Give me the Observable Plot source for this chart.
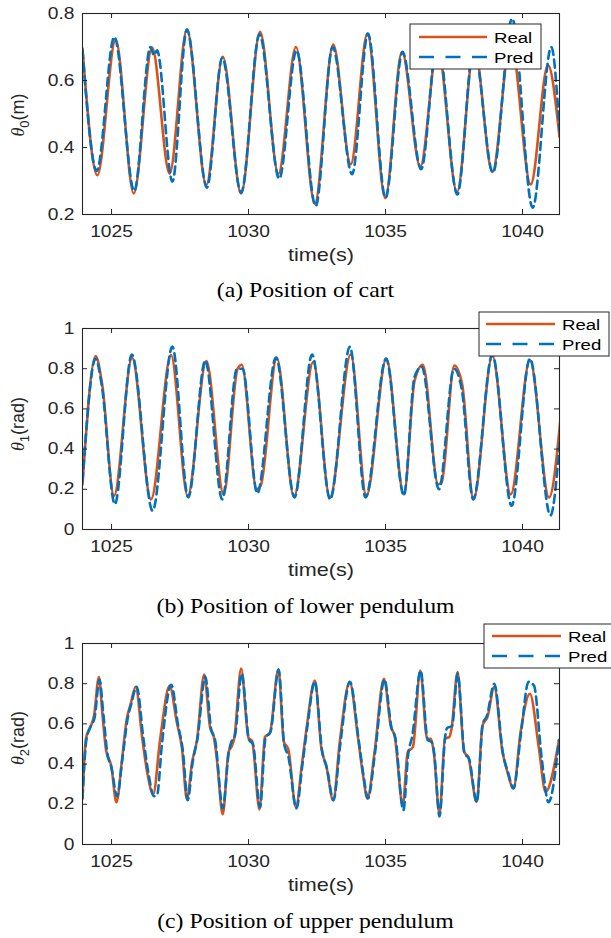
<!DOCTYPE html>
<html><head><meta charset="utf-8">
<script src="https://cdn.jsdelivr.net/npm/d3@7"></script>
<script src="https://cdn.jsdelivr.net/npm/@observablehq/plot@0.6"></script>
<style>
html,body{margin:0;padding:0;background:#fff;}
#root{position:relative;width:611px;height:938px;overflow:hidden;background:#fff;}
.panel{position:absolute;left:0;}
#overlay{position:absolute;left:0;top:0;}
.cap{font-family:"Liberation Serif","Times New Roman",Times,serif;font-size:22px;fill:#000;}
.leg{font-family:"Liberation Sans",Arial,sans-serif;font-size:15.5px;fill:#000;}
.ylab{font-family:"Liberation Sans",Arial,sans-serif;font-size:18px;fill:#262626;}
.theta{font-family:"Liberation Serif","Times New Roman",serif;font-style:italic;}
</style></head><body><div id="root"></div>
<script>
// ---------- shared axis data ----------
const xTicks = [1025, 1030, 1035, 1040];
const xDomain = [1023.94, 1041.35];
const yTicksA = [0.2, 0.4, 0.6, 0.8];
const yTicksBC = [0, 0.2, 0.4, 0.6, 0.8, 1];
const seriesNames = ["Real", "Pred"];
const captions = ["(a) Position of cart", "(b) Position of lower pendulum", "(c) Position of upper pendulum"];
const yLabelSub = ["0", "1", "2"];
const yLabelUnit = ["(m)", "(rad)", "(rad)"];
const xLabel = "time(s)";

// ---------- panel (a): cart position ----------
const aRealT = [1023.94,1024.48,1025.15,1025.81,1026.48,1027.12,1027.75,1028.46,1029.06,1029.73,1030.42,1031.09,1031.73,1032.42,1033.09,1033.73,1034.34,1034.99,1035.60,1036.27,1036.90,1037.61,1038.24,1038.90,1039.57,1040.30,1040.93,1041.35];
const aRealV = [0.695,0.317,0.722,0.263,0.698,0.322,0.752,0.288,0.671,0.263,0.745,0.322,0.700,0.233,0.707,0.350,0.740,0.249,0.686,0.342,0.700,0.267,0.700,0.327,0.720,0.290,0.646,0.432];
const aPredT = [1023.94,1024.46,1025.10,1025.83,1026.42,1026.55,1026.66,1027.22,1027.75,1028.48,1029.04,1029.73,1030.40,1031.12,1031.75,1032.45,1033.07,1033.78,1034.36,1035.00,1035.62,1036.30,1036.90,1037.62,1038.22,1038.92,1039.62,1040.37,1041.05,1041.35];
const aPredV = [0.690,0.330,0.730,0.270,0.700,0.675,0.690,0.298,0.752,0.280,0.668,0.265,0.738,0.307,0.690,0.225,0.700,0.320,0.740,0.250,0.685,0.335,0.720,0.260,0.700,0.325,0.785,0.220,0.700,0.450];

// ---------- panel (b): lower pendulum ----------
const bRealT = [1023.94,1024.42,1024.66,1025.09,1025.75,1026.44,1027.17,1027.78,1028.46,1029.09,1029.60,1029.75,1030.30,1030.45,1031.03,1031.66,1032.36,1032.97,1033.73,1034.30,1035.03,1035.67,1036.06,1036.36,1036.92,1037.05,1037.51,1037.80,1038.21,1038.90,1039.57,1040.27,1040.97,1041.39];
const bRealV = [0.225,0.863,0.720,0.167,0.854,0.150,0.868,0.167,0.838,0.175,0.800,0.820,0.200,0.220,0.854,0.164,0.833,0.159,0.871,0.167,0.849,0.175,0.740,0.820,0.225,0.235,0.816,0.720,0.150,0.863,0.175,0.843,0.159,0.556];
const bPredT = [1023.94,1024.42,1024.64,1025.12,1025.74,1026.50,1027.22,1027.80,1028.42,1029.04,1029.58,1029.78,1030.32,1031.00,1031.68,1032.32,1032.98,1033.70,1034.27,1035.02,1035.67,1036.06,1036.32,1036.95,1037.50,1037.78,1038.20,1038.90,1039.60,1040.27,1041.02,1041.39];
const bPredV = [0.240,0.850,0.720,0.126,0.870,0.093,0.910,0.160,0.840,0.150,0.800,0.800,0.180,0.855,0.160,0.870,0.150,0.909,0.160,0.850,0.170,0.760,0.810,0.200,0.800,0.700,0.150,0.870,0.118,0.850,0.070,0.500];

// ---------- panel (c): upper pendulum ----------
const cRealT = [1023.94,1024.07,1024.22,1024.36,1024.54,1024.66,1024.80,1024.99,1025.18,1025.38,1025.55,1025.70,1025.88,1026.12,1026.30,1026.52,1026.78,1027.12,1027.38,1027.57,1027.75,1027.94,1028.12,1028.38,1028.60,1028.72,1028.84,1029.06,1029.27,1029.39,1029.48,1029.73,1030.00,1030.13,1030.40,1030.60,1030.78,1031.09,1031.29,1031.45,1031.73,1031.94,1032.12,1032.42,1032.66,1032.84,1033.09,1033.33,1033.69,1034.00,1034.18,1034.34,1034.60,1034.94,1035.20,1035.33,1035.63,1035.81,1036.00,1036.27,1036.52,1036.66,1036.76,1036.97,1037.17,1037.33,1037.41,1037.63,1037.87,1038.02,1038.33,1038.54,1038.72,1038.97,1039.27,1039.45,1039.67,1039.93,1040.27,1040.60,1040.84,1041.33];
const cRealV = [0.228,0.530,0.580,0.640,0.833,0.660,0.470,0.390,0.210,0.420,0.620,0.700,0.785,0.530,0.360,0.250,0.530,0.790,0.610,0.480,0.225,0.410,0.520,0.845,0.580,0.545,0.430,0.150,0.460,0.490,0.530,0.875,0.530,0.515,0.175,0.535,0.555,0.872,0.510,0.475,0.185,0.390,0.580,0.816,0.477,0.390,0.220,0.510,0.808,0.526,0.344,0.228,0.460,0.824,0.584,0.543,0.195,0.460,0.485,0.866,0.526,0.526,0.460,0.154,0.526,0.535,0.576,0.858,0.460,0.435,0.212,0.593,0.634,0.783,0.460,0.360,0.278,0.560,0.750,0.477,0.262,0.518];
const cPredT = [1023.94,1024.08,1024.24,1024.38,1024.56,1024.70,1024.84,1025.00,1025.20,1025.40,1025.58,1025.72,1025.92,1026.16,1026.34,1026.55,1026.66,1026.84,1027.18,1027.42,1027.60,1027.78,1027.96,1028.14,1028.42,1028.64,1028.78,1029.06,1029.28,1029.40,1029.50,1029.75,1030.02,1030.16,1030.42,1030.62,1030.80,1031.10,1031.30,1031.45,1031.75,1031.96,1032.14,1032.42,1032.68,1032.86,1033.10,1033.35,1033.70,1034.02,1034.20,1034.36,1034.62,1034.96,1035.22,1035.36,1035.65,1035.83,1035.98,1036.28,1036.54,1036.68,1036.78,1036.97,1037.18,1037.25,1037.43,1037.63,1037.89,1038.04,1038.33,1038.55,1038.70,1038.97,1039.29,1039.47,1039.67,1039.95,1040.22,1040.42,1040.70,1040.95,1041.33];
const cPredV = [0.230,0.520,0.590,0.630,0.820,0.650,0.460,0.380,0.240,0.430,0.620,0.700,0.785,0.530,0.360,0.240,0.245,0.500,0.795,0.600,0.470,0.220,0.410,0.530,0.835,0.570,0.520,0.180,0.460,0.520,0.540,0.850,0.520,0.500,0.185,0.530,0.560,0.870,0.500,0.440,0.180,0.390,0.580,0.810,0.470,0.380,0.220,0.500,0.810,0.520,0.340,0.230,0.460,0.820,0.580,0.530,0.170,0.450,0.543,0.865,0.520,0.510,0.450,0.140,0.540,0.580,0.590,0.850,0.450,0.430,0.210,0.600,0.640,0.800,0.450,0.360,0.280,0.560,0.810,0.790,0.430,0.210,0.520];

// ---------- colors ----------
const colorReal = "#D95319";
const colorPred = "#0072BD";
const axisColor = "#262626";

const root = document.getElementById("root");
const W = 611, mL = 82, mR = 52, mT = 13, plotH = 201, mB = 60;
const innerW = W - mL - mR;
const textScale = 1.2;

function toRows(T, V) { return T.map((t, i) => ({t, v: V[i]})); }

function makePanel(top, yDomain, yTicks, rT, rV, pT, pV) {
  const real = toRows(rT, rV);
  const pred = toRows(pT, pV);
  const svg = Plot.plot({
    width: W, height: mT + plotH + mB,
    marginTop: mT, marginBottom: mB, marginLeft: mL, marginRight: mR,
    style: {fontFamily: "'Liberation Sans', Arial, sans-serif", fontSize: "16px", color: axisColor, background: "transparent", overflow: "visible"},
    x: {domain: xDomain, axis: null},
    y: {domain: yDomain, axis: null},
    marks: [
      Plot.line(real, {x: "t", y: "v", stroke: colorReal, strokeWidth: 2.6, curve: "monotone-x", clip: true}),
      Plot.line(pred, {x: "t", y: "v", stroke: colorPred, strokeWidth: 2.6, strokeDasharray: "8,5", curve: "monotone-x", clip: true}),
      Plot.frame({stroke: axisColor, strokeWidth: 1.1}),
      Plot.tickX(xTicks, {x: d => d, stroke: axisColor, insetTop: plotH - 5}),
      Plot.tickX(xTicks, {x: d => d, stroke: axisColor, insetBottom: plotH - 5}),
      Plot.tickY(yTicks, {y: d => d, stroke: axisColor, insetRight: innerW - 5}),
      Plot.tickY(yTicks, {y: d => d, stroke: axisColor, insetLeft: innerW - 5}),
      Plot.axisX({ticks: xTicks, tickSize: 0, tickPadding: 11.5, tickFormat: d => String(d), label: null}),
      Plot.axisY({ticks: yTicks, tickSize: 0, tickPadding: 8, tickFormat: d => String(d), label: null}),
      Plot.text([xLabel], {text: d => d, frameAnchor: "bottom", dy: 46, lineAnchor: "bottom", fontSize: 18})
    ]
  });
  svg.querySelectorAll("text").forEach(el => {
    const tr = el.getAttribute("transform");
    if (tr) el.setAttribute("transform", tr + ` scale(${textScale},1)`);
  });
  const div = document.createElement("div");
  div.className = "panel";
  div.style.top = top + "px";
  div.appendChild(svg);
  root.appendChild(div);
}

makePanel(0, [0.2, 0.8], yTicksA, aRealT, aRealV, aPredT, aPredV);
makePanel(315, [0, 1], yTicksBC, bRealT, bRealV, bPredT, bPredV);
makePanel(630, [0, 1], yTicksBC, cRealT, cRealV, cPredT, cPredV);

// ---------- overlay: y labels, legends, captions ----------
const legendBoxes = [
  {x: 410, y: 24, w: 131, h: 45, lx1: 419, lx2: 487, r1: 37, r2: 57, tx: 494},
  {x: 479, y: 312, w: 130, h: 44, lx1: 486, lx2: 555, r1: 324, r2: 344, tx: 562},
  {x: 484, y: 624, w: 131, h: 44, lx1: 492, lx2: 561, r1: 636, r2: 656, tx: 568}
];
const yLabelPos = [[24, 115], [24, 424], [24, 738]];
const captionY = [297, 613, 928];

let o = `<svg id="overlay" width="611" height="938" xmlns="http://www.w3.org/2000/svg">`;
for (let i = 0; i < 3; i++) {
  const b = legendBoxes[i];
  o += `<rect x="${b.x}" y="${b.y}" width="${b.w}" height="${b.h}" fill="#fff" stroke="${axisColor}" stroke-width="1"/>`;
  o += `<line x1="${b.lx1}" x2="${b.lx2}" y1="${b.r1}" y2="${b.r1}" stroke="${colorReal}" stroke-width="2.6"/>`;
  o += `<line x1="${b.lx1}" x2="${b.lx2}" y1="${b.r2}" y2="${b.r2}" stroke="${colorPred}" stroke-width="2.6" stroke-dasharray="15,11.5"/>`;
  o += `<text class="leg" transform="translate(${b.tx},${b.r1 + 5.5}) scale(${textScale},1)">${seriesNames[0]}</text>`;
  o += `<text class="leg" transform="translate(${b.tx},${b.r2 + 5.5}) scale(${textScale},1)">${seriesNames[1]}</text>`;
  const [lx, ly] = yLabelPos[i];
  o += `<text class="ylab" transform="translate(${lx},${ly}) rotate(-90)" text-anchor="middle"><tspan class="theta">θ</tspan><tspan font-size="13" dy="5">${yLabelSub[i]}</tspan><tspan dy="-5">${yLabelUnit[i]}</tspan></text>`;
  o += `<text class="cap" transform="translate(305.5,${captionY[i]}) scale(1.08,1)" text-anchor="middle">${captions[i]}</text>`;
}
o += `</svg>`;
root.insertAdjacentHTML("beforeend", o);
</script>
</body></html>
